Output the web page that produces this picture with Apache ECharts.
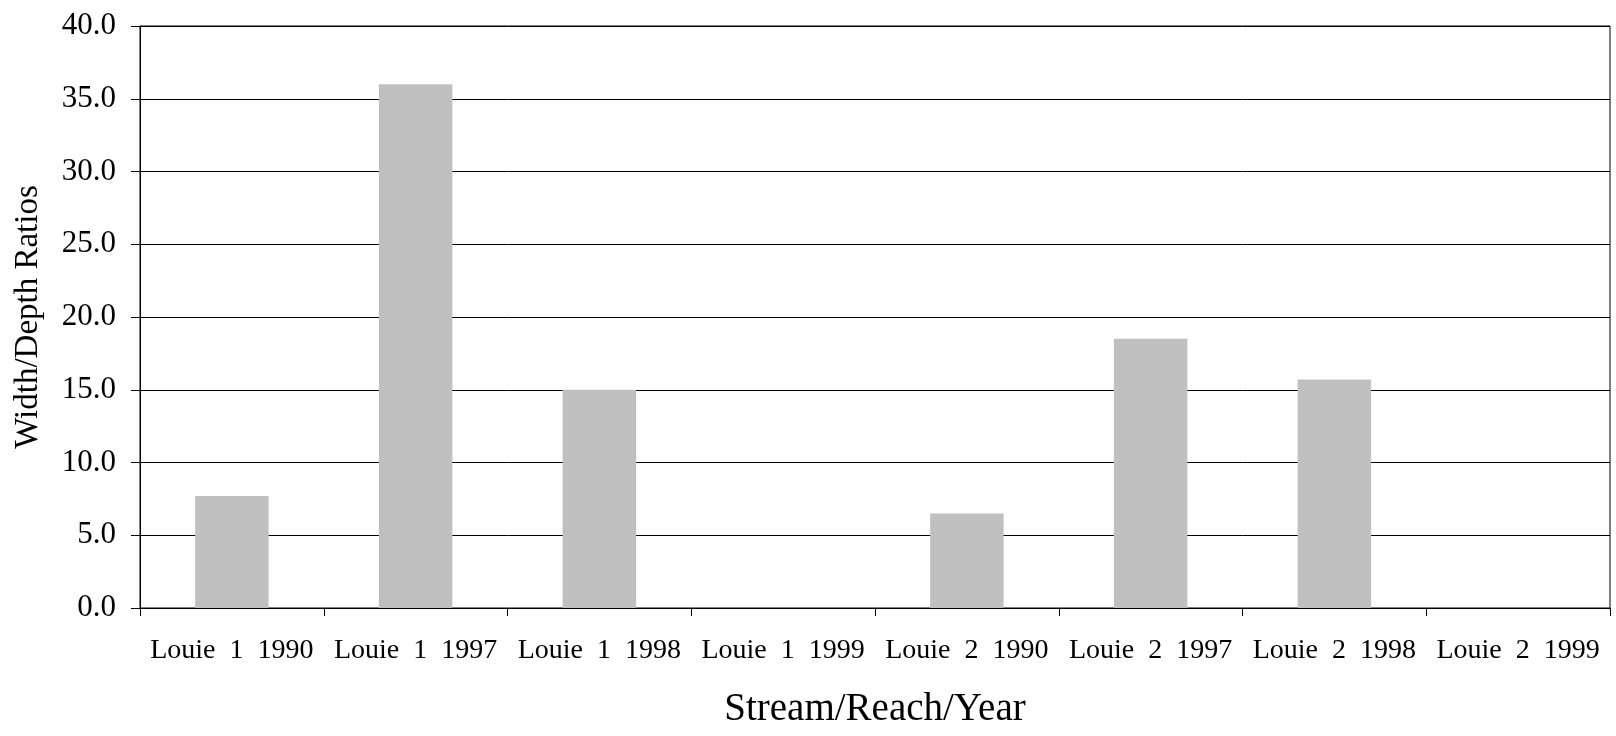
<!DOCTYPE html>
<html>
<head>
<meta charset="utf-8">
<script src="https://cdn.jsdelivr.net/npm/echarts@6/dist/echarts.min.js"></script>
<style>
html,body{margin:0;padding:0;background:#fff;}
#chart{width:1616px;height:736px;}
</style>
</head>
<body>
<div id="chart"></div>
<script>
const categories = ["Louie  1  1990","Louie  1  1997","Louie  1  1998","Louie  1  1999","Louie  2  1990","Louie  2  1997","Louie  2  1998","Louie  2  1999"];
const ratios = [7.7, 36.0, 15.0, 0, 6.5, 18.5, 15.7, 0];
const yTitle = "Width/Depth Ratios";
const xTitle = "Stream/Reach/Year";

const font = "'Liberation Serif', 'Times New Roman', serif";
const chart = echarts.init(document.getElementById('chart'), null, {renderer:'canvas'});
chart.setOption({
  backgroundColor: '#fff',
  animation: false,
  grid: {left:140, right:6, top:26, bottom:128, containLabel:false, outerBoundsMode:'none', show:true, borderColor:'#000', borderWidth:1, backgroundColor:'transparent'},
  xAxis: {
    type:'category',
    data: categories,
    boundaryGap: true,
    axisLine:{show:true, lineStyle:{color:'#000', width:1}},
    axisTick:{show:true, alignWithLabel:false, length:8, lineStyle:{color:'#000'}},
    axisLabel:{interval:0, fontFamily:font, fontSize:28, color:'#000', margin:29},
    name: xTitle,
    nameLocation:'middle',
    nameGap:82,
    nameTextStyle:{fontFamily:font, fontSize:39, color:'#000'}
  },
  yAxis: {
    type:'value',
    min:0, max:40, interval:5,
    axisLine:{show:true, lineStyle:{color:'#000', width:1}},
    axisTick:{show:true, length:9, lineStyle:{color:'#000'}},
    splitLine:{show:true, lineStyle:{color:'#000', width:1}},
    axisLabel:{fontFamily:font, fontSize:31, color:'#000', margin:24, formatter:v=>v.toFixed(1)},
    name: yTitle,
    nameLocation:'middle',
    nameGap:95,
    nameRotate:90,
    nameTextStyle:{fontFamily:font, fontSize:33, color:'#000'}
  },
  series:[{
    type:'bar',
    data: ratios,
    barWidth:'40%',
    itemStyle:{color:'#c0c0c0'}
  }]
});
</script>
</body>
</html>
